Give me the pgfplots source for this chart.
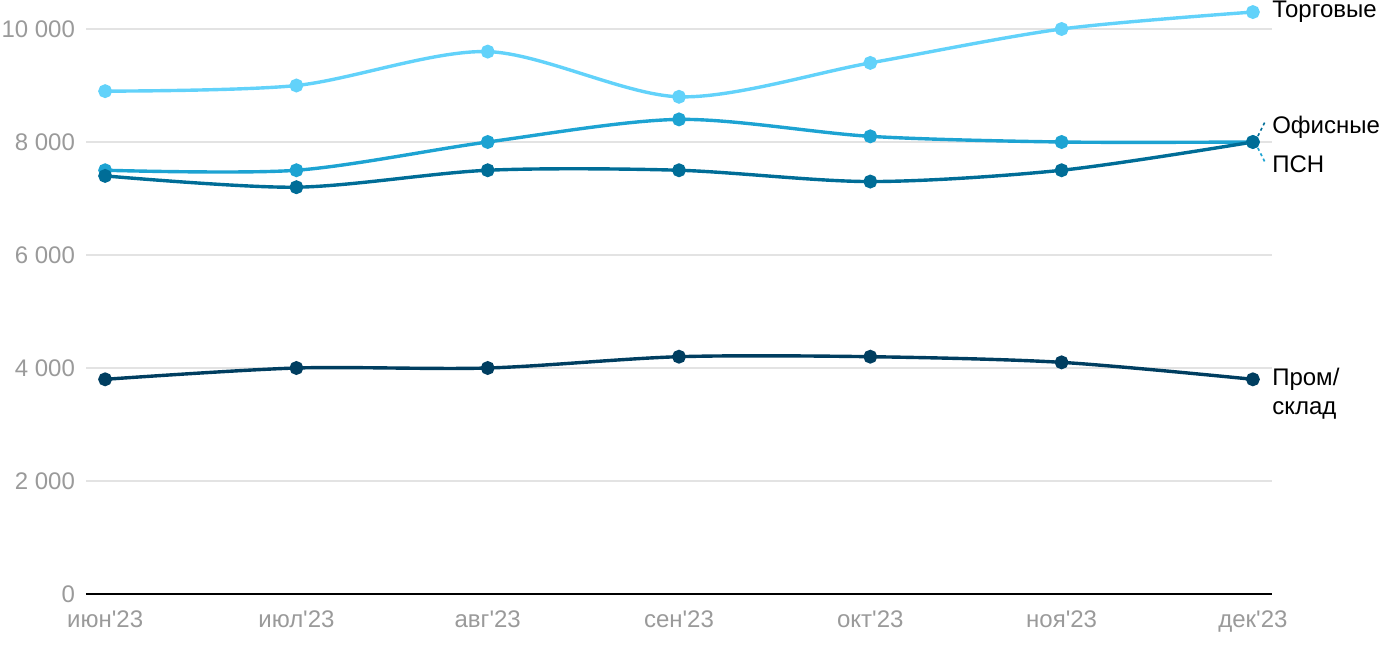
\documentclass[border=0pt]{standalone}
\usepackage{pgfplots}
\pgfplotsset{compat=1.18}
\usepackage{fontspec}
\setmainfont{Liberation Sans}[Ligatures=TeXOff]
\definecolor{ctorg}{HTML}{62D2FA}
\definecolor{coff}{HTML}{1DA3D2}
\definecolor{cpsn}{HTML}{006D97}
\definecolor{cprom}{HTML}{003E60}
\definecolor{tickgray}{HTML}{9A9A9A}
\definecolor{gridgray}{HTML}{E3E3E3}
\begin{document}
\begin{tikzpicture}
\begin{axis}[
  name=ax,
  scale only axis,
  width=593pt, height=282.5pt,
  xmin=-0.1, xmax=6.1, ymin=0, ymax=10000,
  clip=false,
  scaled y ticks=false,
  axis x line*=bottom, axis y line*=left,
  x axis line style={black, line width=1.1pt, -},
  y axis line style={draw=none, -},
  xtick={0,...,6},
  xticklabels={июн'23,июл'23,авг'23,сен'23,окт'23,ноя'23,дек'23},
  ytick={0,2000,4000,6000,8000,10000},
  yticklabels={0,2 000,4 000,6 000,8 000,10 000},
  major tick length=0pt,
  ymajorgrids,
  grid style={gridgray, line width=0.8pt},
  tick label style={font=\fontsize{12}{14}\selectfont, text=tickgray},
  xticklabel style={yshift=-5pt},
  yticklabel style={xshift=-2pt},
  every axis plot/.append style={line width=1.7pt, smooth, mark=*, mark size=2.6pt},
]
\addplot[ctorg, mark options={fill=ctorg}] coordinates {(0,8900)(1,9000)(2,9600)(3,8800)(4,9400)(5,10000)(6,10300)};
\addplot[coff, mark options={fill=coff}] coordinates {(0,7500)(1,7500)(2,8000)(3,8400)(4,8100)(5,8000)(6,8000)};
\addplot[cpsn, mark options={fill=cpsn}] coordinates {(0,7400)(1,7200)(2,7500)(3,7500)(4,7300)(5,7500)(6,8000)};
\addplot[cprom, mark options={fill=cprom}] coordinates {(0,3800)(1,4000)(2,4000)(3,4200)(4,4200)(5,4100)(6,3800)};
\pgfplotsextra{
\def\lf{\fontsize{12}{14.5}\selectfont}
\node[anchor=west, font=\lf, inner sep=0pt] at ([xshift=9.5pt]axis cs:6,10300) {Торговые};
\node[anchor=west, font=\lf, inner sep=0pt] at ([xshift=9.5pt,yshift=7.5pt]axis cs:6,8000) {Офисные};
\node[anchor=west, font=\lf, inner sep=0pt] at ([xshift=9.5pt,yshift=-11pt]axis cs:6,8000) {ПСН};
\draw[cpsn, dash pattern=on 1.5pt off 1.5pt, line width=0.8pt] ([xshift=2.5pt,yshift=3pt]axis cs:6,8000) -- ([xshift=6pt,yshift=10pt]axis cs:6,8000);
\draw[coff, dash pattern=on 1.5pt off 1.5pt, line width=0.8pt] ([xshift=2.5pt,yshift=-3pt]axis cs:6,8000) -- ([xshift=6pt,yshift=-10pt]axis cs:6,8000);
\node[anchor=west, align=left, font=\lf, inner sep=0pt] at ([xshift=9.5pt,yshift=-7pt]axis cs:6,3800) {Пром/\\склад};
}
\end{axis}
\pgfresetboundingbox
\path ([shift={(-43pt,-28pt)}]ax.south west) rectangle ([shift={(64pt,14.5pt)}]ax.north east);
\end{tikzpicture}
\end{document}
